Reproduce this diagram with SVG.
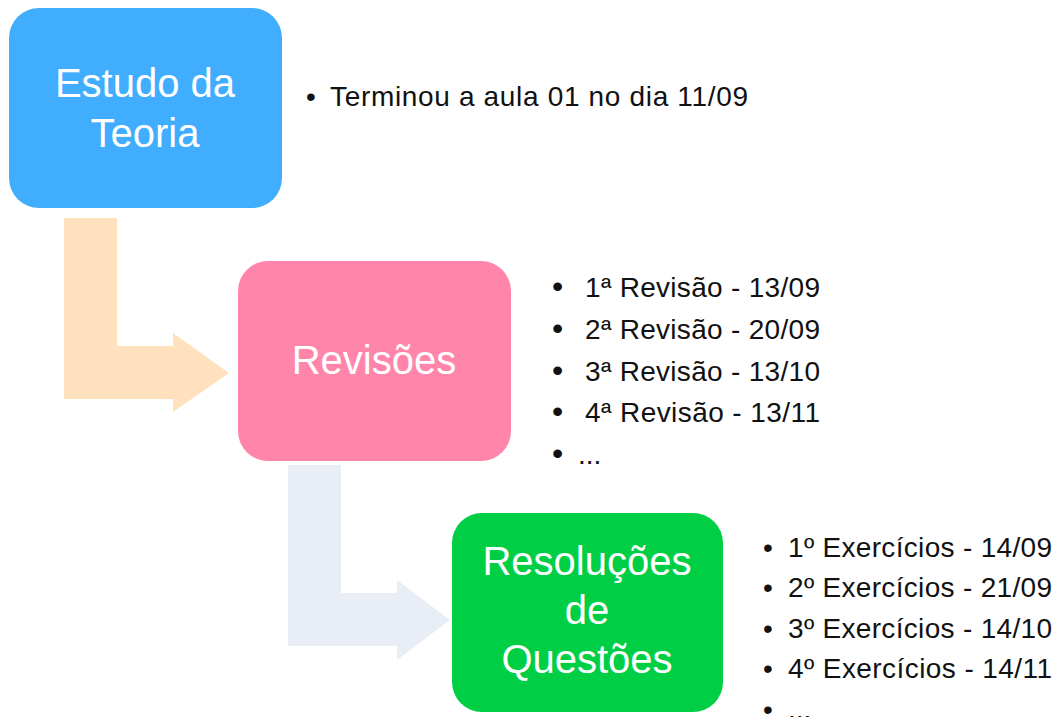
<svg xmlns="http://www.w3.org/2000/svg" width="1055" height="717" viewBox="0 0 1055 717">
<style>
.box{stroke:none}
.lbl{font-family:"Liberation Sans",Arial,sans-serif;font-size:40px;fill:#fff;text-anchor:middle}
.li{font-family:"Liberation Sans",Arial,sans-serif;font-size:28px;fill:#111}
.bl{font-family:"Liberation Sans",Arial,sans-serif;font-size:32px;fill:#111}
</style>
<rect width="1055" height="717" fill="#fff"/>
<g id="connectors">
<path d="M64,218 H117 V346 H173 V333 L229,373 L173,412 V399 H64 Z" fill="#FFE1BD"/>
<path d="M288,465 H341 V593 H397 V580 L450,620 L397,660 V646 H288 Z" fill="#E9EDF6"/>
</g>
<g id="estudo">
<rect class="box" x="9" y="8" width="273" height="200" rx="30" fill="#40ADFF"/>
<text class="lbl" x="145" y="97">Estudo da</text>
<text class="lbl" x="145" y="147">Teoria</text>
</g>
<g id="estudo-notes">
<text class="li" x="306" y="106">•</text>
<text class="li" x="330" y="106" textLength="418">Terminou a aula 01 no dia 11/09</text>
</g>
<g id="revisoes">
<rect class="box" x="238" y="261" width="273" height="200" rx="30" fill="#FF85AB"/>
<text class="lbl" x="374" y="374">Revisões</text>
</g>
<g id="revisoes-notes">
<text class="bl" x="552" y="297">•</text><text class="li" x="585" y="297" textLength="235">1ª Revisão - 13/09</text>
<text class="bl" x="552" y="339">•</text><text class="li" x="585" y="339" textLength="235">2ª Revisão - 20/09</text>
<text class="bl" x="552" y="381">•</text><text class="li" x="585" y="381" textLength="235">3ª Revisão - 13/10</text>
<text class="bl" x="552" y="422">•</text><text class="li" x="585" y="422" textLength="235">4ª Revisão - 13/11</text>
<text class="bl" x="552" y="464">•</text><text class="li" x="578" y="464">...</text>
</g>
<g id="resolucoes">
<rect class="box" x="452" y="513" width="271" height="199" rx="30" fill="#00CF45"/>
<text class="lbl" x="587" y="575">Resoluções</text>
<text class="lbl" x="587" y="624">de</text>
<text class="lbl" x="587" y="673">Questões</text>
</g>
<g id="resolucoes-notes">
<text class="li" x="763" y="557">•</text><text class="li" x="788" y="557" textLength="264">1º Exercícios - 14/09</text>
<text class="li" x="763" y="597">•</text><text class="li" x="788" y="597" textLength="264">2º Exercícios - 21/09</text>
<text class="li" x="763" y="638">•</text><text class="li" x="788" y="638" textLength="264">3º Exercícios - 14/10</text>
<text class="li" x="763" y="678">•</text><text class="li" x="788" y="678" textLength="264">4º Exercícios - 14/11</text>
<text class="li" x="763" y="719">•</text><text class="li" x="788" y="719">...</text>
</g>
</svg>
